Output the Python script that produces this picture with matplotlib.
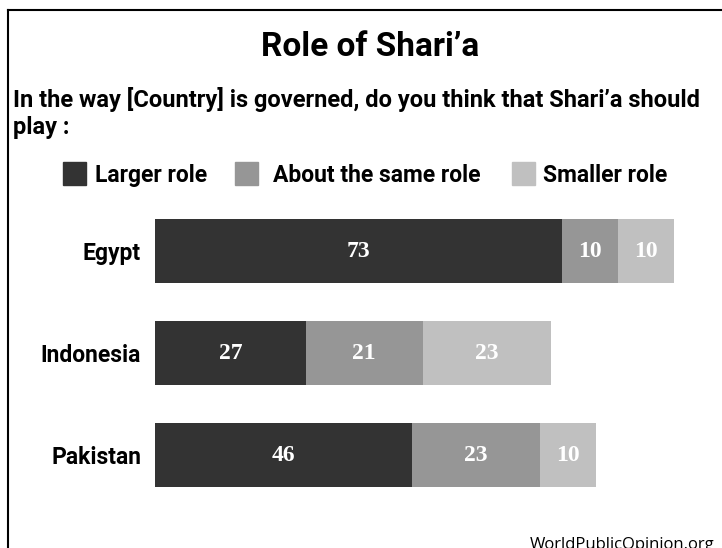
import matplotlib
matplotlib.use("Agg")
import matplotlib.pyplot as plt
from matplotlib.patches import Rectangle
from matplotlib.lines import Line2D

# data
countries = ["Egypt", "Indonesia", "Pakistan"]
larger = [73, 27, 46]
same = [10, 21, 23]
smaller = [10, 23, 10]
series_names = ["Larger role", "About the same role", "Smaller role"]
colors = ["#333333", "#969696", "#c0c0c0"]

label_font = ["Roboto", "DejaVu Sans"]
num_font = ["Liberation Serif", "DejaVu Serif"]

W, H = 722, 548
fig = plt.figure(figsize=(W / 100, H / 100), dpi=100)


def fx(px):
    return px / W


def fy(py):
    return 1 - py / H


# frame (left and top only, the rest is cut off)
fig.add_artist(Line2D([fx(8), fx(8)], [fy(10), 0], color="black", lw=1.5))
fig.add_artist(Line2D([fx(8), 1], [fy(10), fy(10)], color="black", lw=1.5))

fig.text(fx(370), fy(56), "Role of Shari\u2019a", ha="center", va="baseline",
         fontsize=24, fontweight="bold", family=label_font)
fig.text(fx(13), fy(107), "In the way [Country] is governed, do you think that Shari\u2019a should",
         ha="left", va="baseline", fontsize=17, fontweight="bold", family=label_font)
fig.text(fx(13), fy(134), "play :", ha="left", va="baseline", fontsize=17,
         fontweight="bold", family=label_font)

# legend
leg_sq = [63, 235, 512]
leg_txt = [95, 273, 543]
for x0, xt, name, c in zip(leg_sq, leg_txt, series_names, colors):
    fig.add_artist(Rectangle((fx(x0), fy(185)), fx(23), 23 / H, color=c,
                             transform=fig.transFigure))
    fig.text(fx(xt), fy(182), name, ha="left", va="baseline", fontsize=16.5,
             fontweight="bold", family=label_font)

# bars
ax = fig.add_axes([fx(155), fy(506), 558 / W, 306 / H])
ypos = [0, 1, 2]
left = [0, 0, 0]
for vals, c in zip([larger, same, smaller], colors):
    ax.barh(ypos, vals, left=left, height=0.627, color=c, edgecolor="none")
    for y, v, l in zip(ypos, vals, left):
        ax.text(l + v / 2, y, str(v), ha="center", va="center", color="white",
                fontsize=17, fontweight="bold", family=num_font)
    left = [a + b for a, b in zip(left, vals)]

ax.set_xlim(0, 100)
ax.set_ylim(2.5, -0.5)
ax.set_yticks(ypos)
ax.set_yticklabels(countries, fontsize=16.5, fontweight="bold", family=label_font)
ax.tick_params(axis="y", length=0, pad=10)
ax.set_xticks([])
for s in ax.spines.values():
    s.set_visible(False)

# source note, partly cut off at the bottom edge as in the original
fig.text(fx(530), fy(549), "WorldPublicOpinion.org", ha="left", va="baseline",
         fontsize=12, family=["Open Sans", "DejaVu Sans"])

fig.savefig("out.png", dpi=100)
